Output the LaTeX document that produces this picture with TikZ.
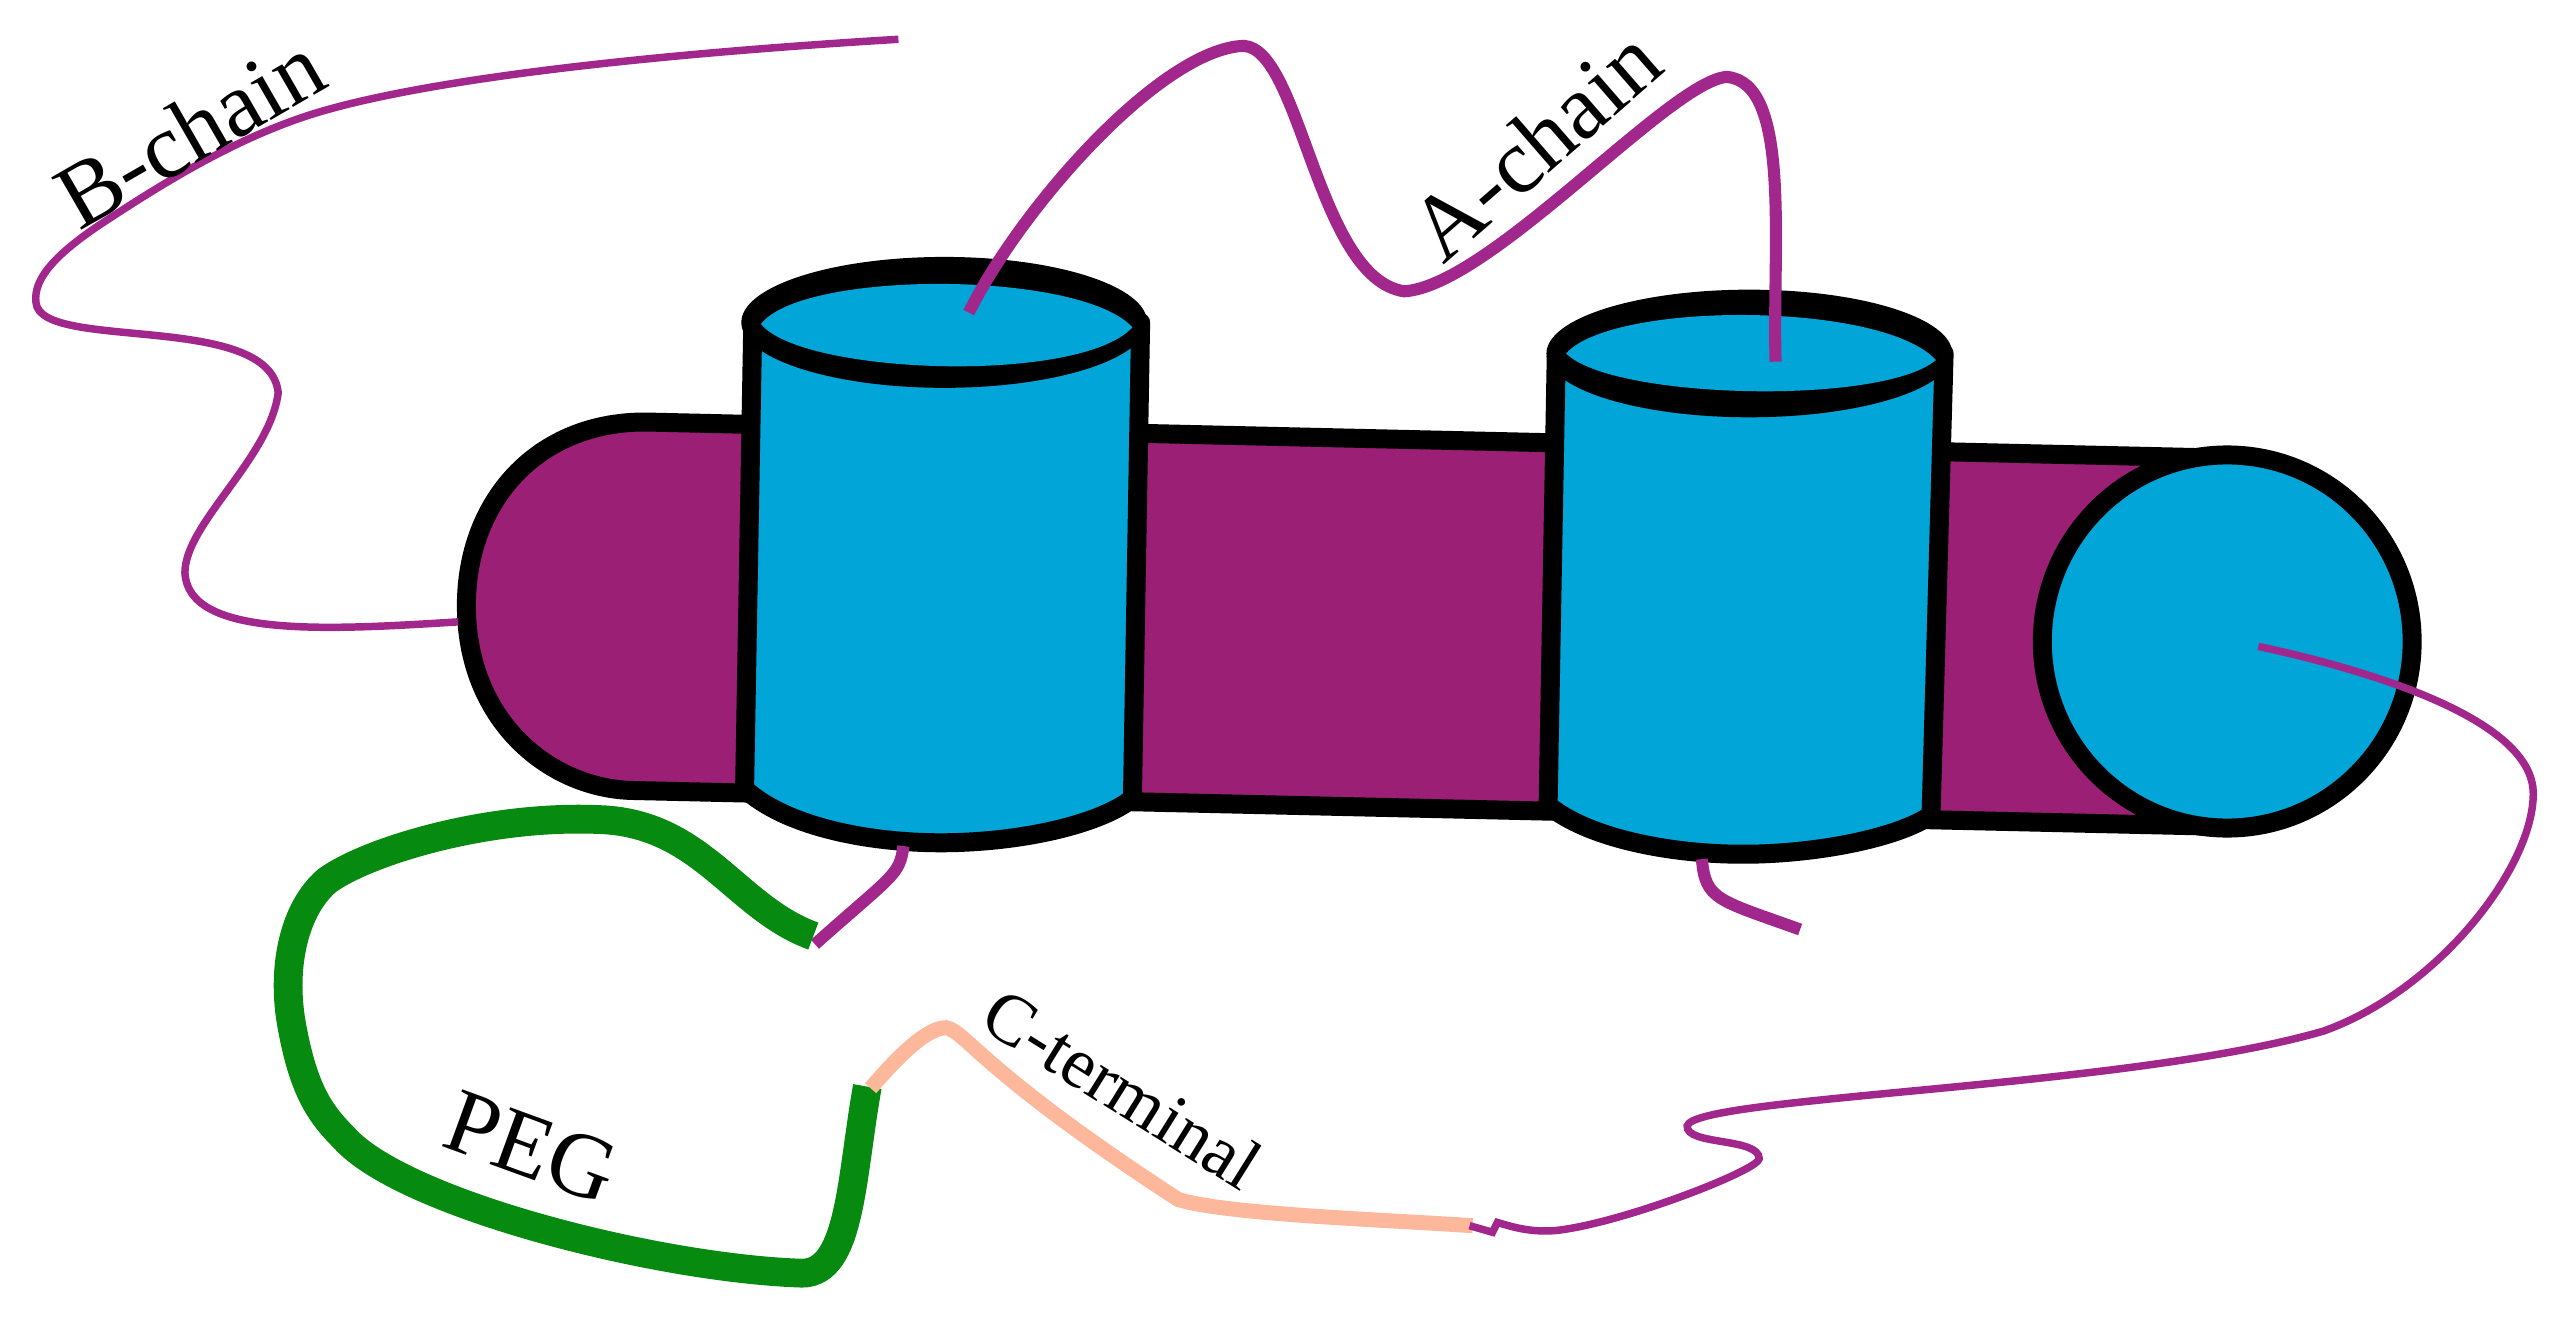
\documentclass[tikz,border=0pt]{standalone}
\usepackage{fontspec}
\setmainfont{Liberation Serif}
\usepackage{tikz}
\usetikzlibrary{calc}
\definecolor{bodypurple}{HTML}{9C1F76}
\definecolor{helixblue}{HTML}{02A5D8}
\definecolor{chainpurple}{HTML}{A2278C}
\definecolor{peggreen}{HTML}{068A10}
\definecolor{ctermorange}{HTML}{FDB79A}

\begin{document}
\begin{tikzpicture}[
            x=0.01cm, y=-0.01cm,
            outline/.style={draw=black, line width=3.3pt, line join=round},
            helix/.style={outline, fill=helixblue},
            chainA/.style={chainpurple, line width=2.1pt},
            chainB/.style={chainpurple, line width=1.3pt},
            peg/.style={peggreen, line width=5pt},
            cterm/.style={ctermorange, line width=2.6pt},
            label/.style={inner sep=0pt, font=\fontsize{16}{20}\selectfont}]

        \useasboundingbox (0,0) rectangle (1568,809);

        % body of the receptor
        \draw[outline, fill=bodypurple] (1360,280) -- (400,258)
            .. controls (330,255) and (285,305) .. (285,370)
            .. controls (285,440) and (335,481) .. (385,483) -- (1360,505) -- cycle;
        \draw[outline, fill=helixblue] (1361,392) ellipse (113 and 114);

        % helices
        \draw[helix] (460,197) -- (455,482)
            .. controls (480,505) and (530,515) .. (575,515)
            .. controls (620,515) and (670,505) .. (692,488) -- (697,197) -- cycle;
        \fill (577,197) ellipse (124 and 40);
        \fill[helixblue] (465,198) .. controls (490,165) and (660,165) .. (692,200)
            .. controls (660,235) and (490,229) .. (465,198) -- cycle;
        \draw[helix] (951,216) -- (946,492)
            .. controls (970,512) and (1020,522) .. (1065,522)
            .. controls (1110,522) and (1160,512) .. (1180,498) -- (1188,216) -- cycle;
        \fill (1069,216) ellipse (124 and 39);
        \fill[helixblue] (957,216) .. controls (985,184) and (1150,184) .. (1183,220)
            .. controls (1150,248) and (985,244) .. (957,216) -- cycle;

        % chains
        \draw[chainB] (549,24) .. controls (400,33) and (260,48) .. (190,70)
            .. controls (140,86) and (95,115) .. (60,138)
            .. controls (35,155) and (20,170) .. (22,185)
            .. controls (25,215) and (165,190) .. (170,240)
            .. controls (165,280) and (113,320) .. (113,350)
            .. controls (115,390) and (200,385) .. (280,380);
        \draw[chainA] (592,191) .. controls (625,125) and (710,30) .. (760,28)
            .. controls (795,30) and (805,170) .. (858,178)
            .. controls (910,175) and (1020,50) .. (1055,47)
            .. controls (1095,50) and (1083,150) .. (1085,221);
        \draw[chainA] (552,517) .. controls (550,535) and (545,535) .. (498,577);
        \draw[chainA] (1040,525) .. controls (1042,550) and (1050,550) .. (1100,568);
        \draw[peg] (497,572) .. controls (450,555) and (430,505) .. (370,501)
            .. controls (300,497) and (225,520) .. (200,538)
            .. controls (180,555) and (172,590) .. (178,625)
            .. controls (185,665) and (195,680) .. (210,695)
            .. controls (245,735) and (400,775) .. (490,778)
            .. controls (520,778) and (520,720) .. (530,664);
        \draw[cterm] (532,665) .. controls (545,650) and (565,628) .. (578,628)
            .. controls (590,630) and (600,655) .. (720,733)
            .. controls (750,742) and (840,745) .. (900,749);
        \draw[chainB] (898,749) -- (912,753) -- (915,747)
            .. controls (925,750) and (935,753) .. (950,752)
            .. controls (990,748) and (1075,715) .. (1075,708)
            .. controls (1075,695) and (1030,700) .. (1031,688)
            .. controls (1035,670) and (1300,665) .. (1420,630)
            .. controls (1490,605) and (1548,530) .. (1548,485)
            .. controls (1548,440) and (1450,410) .. (1380,395);

        % labels
        \node[label, rotate=30] (Bchain) at (116,80) {B-chain};
        \node[label, rotate=41] (Achain) at (938,88) {A-chain};
        \node[label, rotate=-20] (PEGlabel) at (325,701) {PEG};
        \node[label, rotate=-32, font=\fontsize{12.5}{15}\selectfont] (Cterm) at (686,665) {C-terminal};
    \end{tikzpicture}
\end{document}
